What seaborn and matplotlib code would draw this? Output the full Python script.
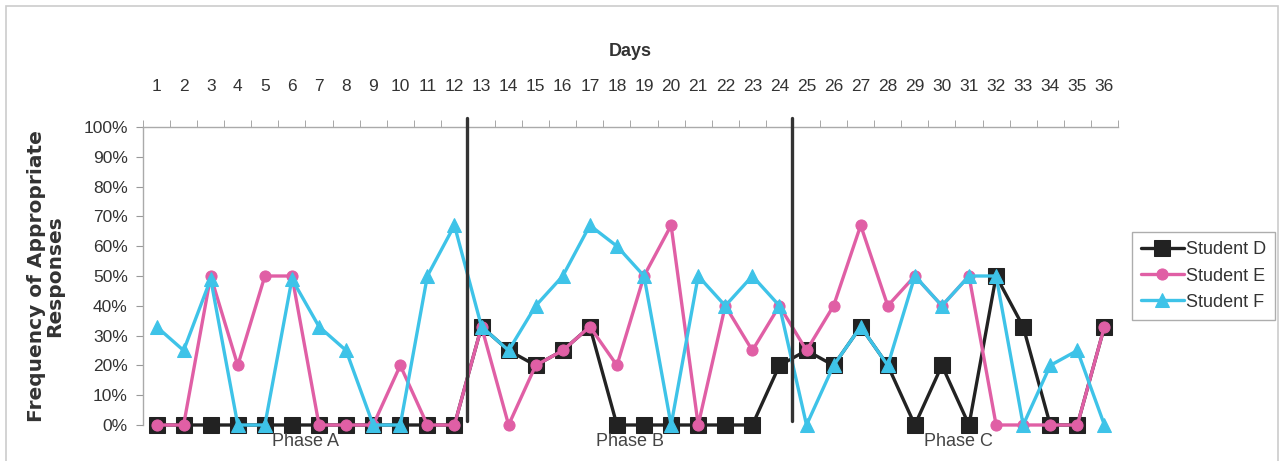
import numpy as np
import pandas as pd
import matplotlib
matplotlib.use("Agg")
import matplotlib.pyplot as plt
import seaborn as sns
from matplotlib.patches import Rectangle

# data (percent of appropriate responses per day)
days = list(range(1, 37))
student_d = [0, 0, 0, 0, 0, 0, 0, 0, 0, 0, 0, 0,
             33, 25, 20, 25, 33, 0, 0, 0, 0, 0, 0, 20,
             25, 20, 33, 20, 0, 20, 0, 50, 33, 0, 0, 33]
student_e = [0, 0, 50, 20, 50, 50, 0, 0, 0, 20, 0, 0,
             33, 0, 20, 25, 33, 20, 50, 67, 0, 40, 25, 40,
             25, 40, 67, 40, 50, 40, 50, 0, 0, 0, 0, 33]
student_f = [33, 25, 49, 0, 0, 49, 33, 25, 0, 0, 50, 67,
             33, 25, 40, 50, 67, 60, 50, 0, 50, 40, 50, 40,
             0, 20, 33, 20, 50, 40, 50, 50, 0, 20, 25, 0]
series_names = ["Student D", "Student E", "Student F"]
phase_names = ["Phase A", "Phase B", "Phase C"]
phase_centers = [6.5, 18.5, 30.6]
phase_breaks = [12.45, 24.45]

df = pd.DataFrame({
    "Day": days * 3,
    "Value": student_d + student_e + student_f,
    "Student": np.repeat(series_names, len(days)),
})

colors = {"Student D": "#222222", "Student E": "#e05fa5", "Student F": "#3ec3e8"}
markers = {"Student D": "s", "Student E": "o", "Student F": "^"}
msizes = {"Student D": 11, "Student E": 8, "Student F": 10}

sns.set_style("white")
font = ["Liberation Sans", "DejaVu Sans"]
txt = "#333333"

fig = plt.figure(figsize=(12.79, 4.61), dpi=100)
ax = fig.add_axes([0.1118, 0.0781, 0.8741 - 0.1118, 0.7245 - 0.0781])

for name in series_names:
    sub = df[df["Student"] == name]
    sns.lineplot(data=sub, x="Day", y="Value", ax=ax, color=colors[name],
                 marker=markers[name], markersize=msizes[name],
                 markeredgecolor=colors[name], linewidth=2.4, label=name,
                 clip_on=False)

# phase change lines
for xb in phase_breaks:
    ax.plot([xb, xb], [1.5, 103], color="#333333", lw=2.4, clip_on=False, zorder=5)

for xc, name in zip(phase_centers, phase_names):
    ax.text(xc, -5.5, name, ha="center", va="center", fontsize=13,
            family=font, color="#444444", zorder=6)

ax.set_xlim(0.5, 36.5)
ax.set_ylim(0, 100)

# x axis on top, labels at day centres, ticks on category borders
ax.xaxis.tick_top()
ax.xaxis.set_label_position("top")
ax.set_xticks(days)
ax.set_xticklabels([str(d) for d in days], fontsize=12.5, family=font, color=txt)
ax.set_xticks(np.arange(0.5, 37, 1), minor=True)
ax.tick_params(axis="x", which="major", length=0, pad=24)
ax.tick_params(axis="x", which="minor", length=5, color="#999999", direction="out",
               top=True, bottom=False)
ax.set_xlabel("Days", fontsize=13, fontweight="bold", family=font, color=txt,
              labelpad=16)

ax.set_yticks(np.arange(0, 101, 10))
ax.set_yticklabels([f"{v}%" for v in range(0, 101, 10)], fontsize=12.5,
                   family=font, color=txt)
ax.tick_params(axis="y", length=5, color="#999999", direction="out", left=True, pad=6)
ax.set_ylabel("Frequency of Appropriate\nResponses", fontsize=14.5,
              fontweight="bold", color=txt, labelpad=14, linespacing=0.95)

for side in ["right", "bottom"]:
    ax.spines[side].set_visible(False)
for side in ["left", "top"]:
    ax.spines[side].set_color("#aaaaaa")
    ax.spines[side].set_linewidth(1)

leg = ax.legend(loc="center left", bbox_to_anchor=(1.014, 0.5), frameon=True,
                prop={"family": font, "size": 13}, handlelength=2.4,
                handletextpad=0.1, borderpad=0.5, labelspacing=0.5,
                fancybox=False, borderaxespad=0)
leg.get_frame().set_edgecolor("#999999")
for t in leg.get_texts():
    t.set_color(txt)

fig.patches.append(Rectangle((0.005, -0.01), 0.994, 0.998, transform=fig.transFigure,
                             fill=False, edgecolor="#cccccc", lw=1.2))

fig.savefig("out.png", dpi=100)
